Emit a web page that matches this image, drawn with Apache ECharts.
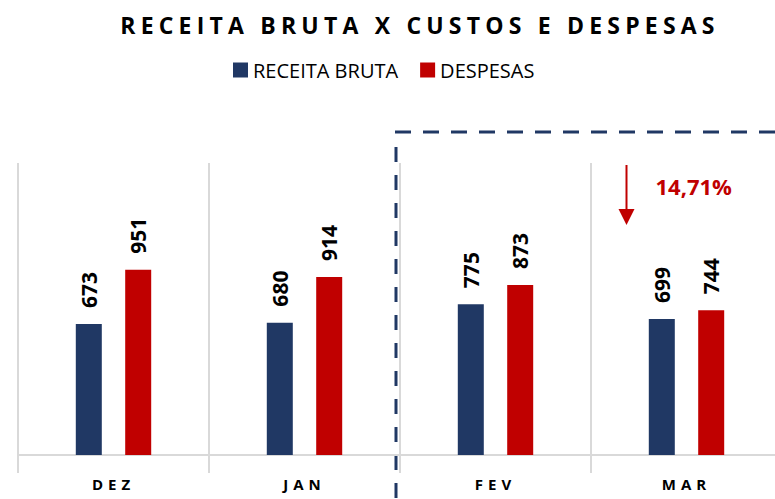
<!DOCTYPE html>
<html>
<head>
<meta charset="utf-8">
<script src="https://cdn.jsdelivr.net/npm/echarts@6/dist/echarts.min.js"></script>
<style>
  html, body { margin: 0; padding: 0; background: #fff; }
  #chart { width: 775px; height: 499px; }
</style>
</head>
<body>
<div id="chart"></div>
<script>
const categories = ['DEZ', 'JAN', 'FEV', 'MAR'];
const receitaBruta = [673, 680, 775, 699];
const despesas = [951, 914, 873, 744];
const variacaoLabel = '14,71%';
const titleText = 'RECEITA BRUTA X CUSTOS E DESPESAS';

const NAVY = '#203864';
const RED = '#c00000';
const GRID = '#d9d9d9';
const FONT = '"Open Sans", sans-serif';

const chart = echarts.init(document.getElementById('chart'), null, { renderer: 'svg' });

const barLabel = {
  show: true,
  position: 'top',
  rotate: 90,
  align: 'left',
  verticalAlign: 'middle',
  distance: 16,
  color: '#000',
  fontWeight: 'bold',
  fontSize: 21,
  fontFamily: FONT
};

chart.setOption({
  animation: false,
  title: {
    text: titleText,
    left: 415,
    top: 8,
    textAlign: 'center',
    textStyle: { fontSize: 23, fontWeight: 'bold', color: '#000', fontFamily: FONT }
  },
  legend: {
    top: 55,
    left: 228,
    icon: 'rect',
    itemWidth: 15,
    itemHeight: 15,
    itemGap: 22,
    textStyle: { fontSize: 20, color: '#000', fontFamily: FONT },
    data: ['RECEITA BRUTA', 'DESPESAS']
  },
  grid: { left: 18, top: 163, width: 764, height: 292, outerBoundsMode: 'none' },
  xAxis: {
    type: 'category',
    data: categories,
    axisLine: { lineStyle: { color: GRID, width: 2 } },
    axisTick: { show: true, length: 18, interval: 0, lineStyle: { color: GRID, width: 2 } },
    splitLine: { show: true, interval: 0, lineStyle: { color: GRID, width: 2 } },
    axisLabel: { margin: 21, fontSize: 15, fontWeight: 'bold', color: '#000', fontFamily: FONT }
  },
  yAxis: { type: 'value', min: 0, max: 1500, show: false, splitLine: { show: false } },
  series: [
    {
      name: 'RECEITA BRUTA',
      type: 'bar',
      data: receitaBruta,
      barWidth: 26,
      barGap: '90%',
      itemStyle: { color: NAVY },
      label: barLabel
    },
    {
      name: 'DESPESAS',
      type: 'bar',
      data: despesas,
      barWidth: 26,
      itemStyle: { color: RED },
      label: barLabel
    }
  ]
});

// annotations placed from the axis scale
const jan = chart.convertToPixel({ xAxisIndex: 0 }, 'JAN');
const fev = chart.convertToPixel({ xAxisIndex: 0 }, 'FEV');
const mar = chart.convertToPixel({ xAxisIndex: 0 }, 'MAR');
const splitX = (jan + fev) / 2 - 4;
const lineY = 132;
const arrowX = mar - 60;

chart.setOption({
  graphic: [
    {
      type: 'line',
      shape: { x1: splitX - 1, y1: lineY, x2: 775, y2: lineY },
      style: { stroke: NAVY, lineWidth: 3, lineDash: [16, 12] }
    },
    {
      type: 'line',
      shape: { x1: splitX, y1: 147, x2: splitX, y2: 499 },
      style: { stroke: NAVY, lineWidth: 3, lineDash: [15, 13] }
    },
    {
      type: 'line',
      shape: { x1: arrowX, y1: 165, x2: arrowX, y2: 212 },
      style: { stroke: RED, lineWidth: 2 }
    },
    {
      type: 'polygon',
      shape: { points: [[arrowX - 8, 209], [arrowX + 8, 209], [arrowX, 225]] },
      style: { fill: RED }
    },
    {
      type: 'text',
      x: arrowX + 29,
      y: 186,
      style: {
        text: variacaoLabel,
        fill: RED,
        font: 'bold 22px "Open Sans", sans-serif',
        verticalAlign: 'middle'
      }
    }
  ]
});

// spaced capitals for the title and month names
document.querySelectorAll('#chart svg text').forEach(function (t) {
  const s = t.textContent;
  if (s === titleText) t.style.letterSpacing = '5.2px';
  else if (categories.indexOf(s) >= 0) t.style.letterSpacing = '5px';
});
</script>
</body>
</html>
